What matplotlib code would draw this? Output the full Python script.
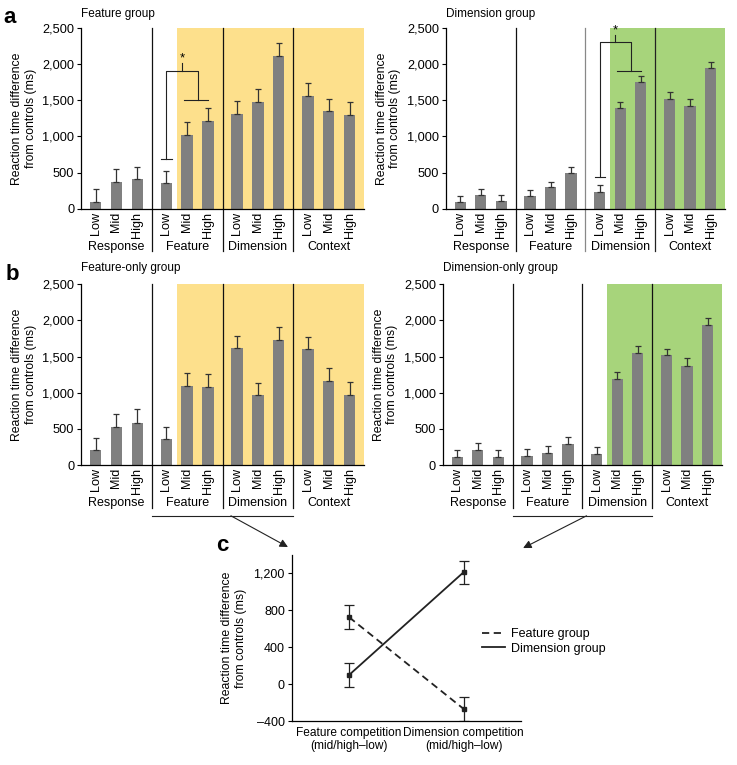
import numpy as np
import matplotlib
matplotlib.use('Agg')
import matplotlib.pyplot as plt
from matplotlib.lines import Line2D
from matplotlib.patches import ConnectionPatch
from matplotlib.ticker import FuncFormatter
from matplotlib.transforms import blended_transform_factory

plt.rcParams['font.family'] = ['Liberation Sans', 'DejaVu Sans']
plt.rcParams['font.size'] = 8.8

levels = ['Low', 'Mid', 'High']
conditions = ['Response', 'Feature', 'Dimension', 'Context']

# a: feature group / dimension group (ms, mean and +SEM)
feature_mean = [93, 370, 412, 356, 1025, 1215, 1307, 1474, 2116, 1557, 1349, 1298]
feature_err = [175, 176, 171, 167, 175, 172, 181, 175, 176, 176, 171, 171]
dimension_mean = [88, 194, 111, 171, 301, 495, 231, 1386, 1746, 1511, 1427, 1940]
dimension_err = [83, 84, 83, 93, 74, 84, 92, 88, 88, 97, 93, 84]

# b: feature-only group / dimension-only group
feature_only_mean = [207, 520, 585, 355, 1091, 1082, 1611, 962, 1727, 1598, 1160, 971]
feature_only_err = [171, 180, 184, 174, 175, 175, 175, 175, 174, 175, 184, 175]
dimension_only_mean = [108, 207, 117, 126, 171, 287, 159, 1195, 1551, 1516, 1375, 1940]
dimension_only_err = [99, 99, 92, 97, 95, 97, 95, 93, 93, 93, 107, 93]

# significance brackets: low end, top, pair, tick top
feature_bracket = [690, 1900, 1505, 2015]
dimension_bracket = [440, 2300, 1905, 2400]

# c: competition effects
competition = ['Feature competition\n(mid/high\u2013low)',
               'Dimension competition\n(mid/high\u2013low)']
feature_group_c = [725, -270]
feature_group_c_err = [130, 130]
dimension_group_c = [100, 1215]
dimension_group_c_err = [128, 125]

GROUP_W = 3.4
BAR_GRAY = '#808080'
YELLOW = '#fde08c'
GREEN = '#a7d47b'
YLABEL = 'Reaction time difference\nfrom controls (ms)'


def bar_positions():
    return np.array([g * GROUP_W + 0.7 + i for g in range(4) for i in range(3)])


def comma(v, pos):
    return f'{int(v):,}'.replace('-', '\u2013')


def draw_bars(ax, mean, err, shade_group, shade_color, sep_colors):
    x = bar_positions()
    ax.axvspan(shade_group * GROUP_W + 1.2, 4 * GROUP_W, color=shade_color, lw=0, zorder=0)
    ax.bar(x, mean, width=0.55, color=BAR_GRAY, zorder=2)
    ax.errorbar(x, mean, yerr=[np.zeros(len(err)), err], fmt='none', ecolor='#333333',
                elinewidth=0.9, capsize=2.5, capthick=0.9, zorder=3)
    ax.set_xlim(0, 4 * GROUP_W)
    ax.set_ylim(0, 2500)
    ax.set_yticks(np.arange(0, 2501, 500))
    ax.yaxis.set_major_formatter(FuncFormatter(comma))
    ax.set_xticks(x, levels * 4, rotation=90)
    ax.tick_params(axis='x', length=0, pad=2, labelsize=9.1)
    ax.tick_params(axis='y', length=3, width=0.8, pad=2, labelsize=9.2)
    for s in ['top', 'right']:
        ax.spines[s].set_visible(False)
    for s in ['left', 'bottom']:
        ax.spines[s].set_linewidth(0.9)
    trans = blended_transform_factory(ax.transData, ax.transAxes)
    for g in range(1, 4):
        ax.plot([g * GROUP_W] * 2, [1, -0.235], transform=trans, color=sep_colors[g - 1],
                lw=0.9, clip_on=False)
    for g, name in enumerate(conditions):
        ax.text(g * GROUP_W + GROUP_W / 2, -0.21, name, transform=trans, ha='center',
                va='center', fontsize=9)
    ax.set_ylabel(YLABEL, labelpad=4)
    return trans


def draw_bracket(ax, group, ys):
    y_low, y_top, y_pair, y_tick = ys
    x = bar_positions()[group * 3:group * 3 + 3]
    xm = (x[1] + x[2]) / 2
    kw = dict(color='#222222', lw=0.8, zorder=4)
    ax.plot([x[0] - 0.25, x[0] + 0.25], [y_low] * 2, **kw)
    ax.plot([x[0], x[0], xm, xm], [y_low, y_top, y_top, y_pair], **kw)
    ax.plot([x[1] - 0.15, x[2]], [y_pair] * 2, **kw)
    sx = (x[0] + xm) / 2
    ax.plot([sx, sx], [y_top, y_tick], **kw)
    ax.text(sx, y_tick - 20, '*', ha='center', va='bottom', fontsize=9.5, clip_on=False)


fig = plt.figure(figsize=(7.37, 7.65), dpi=100)

ax_al = fig.add_axes([0.110, 0.727, 0.384, 0.2366])
ax_ar = fig.add_axes([0.605, 0.727, 0.3786, 0.2366])
ax_bl = fig.add_axes([0.110, 0.392, 0.384, 0.2366])
ax_br = fig.add_axes([0.601, 0.392, 0.3786, 0.2366])
ax_c = fig.add_axes([0.396, 0.0575, 0.311, 0.217])

draw_bars(ax_al, feature_mean, feature_err, 1, YELLOW, ['#111111', '#111111', '#111111'])
draw_bars(ax_ar, dimension_mean, dimension_err, 2, GREEN, ['#111111', '#888888', '#222222'])
trans_bl = draw_bars(ax_bl, feature_only_mean, feature_only_err, 1, YELLOW,
                     ['#111111', '#111111', '#111111'])
trans_br = draw_bars(ax_br, dimension_only_mean, dimension_only_err, 2, GREEN,
                     ['#111111', '#111111', '#111111'])

ax_al.text(0, 1.075, 'Feature group', transform=ax_al.transAxes, fontsize=8.5, va='center')
ax_ar.text(0, 1.075, 'Dimension group', transform=ax_ar.transAxes, fontsize=8.5, va='center')
ax_bl.text(0, 1.09, 'Feature-only group', transform=ax_bl.transAxes, fontsize=8.5, va='center')
ax_br.text(0, 1.09, 'Dimension-only group', transform=ax_br.transAxes, fontsize=8.5,
           va='center')

draw_bracket(ax_al, 1, feature_bracket)
draw_bracket(ax_ar, 2, dimension_bracket)

# lines under b pointing at c
for ax, trans in [(ax_bl, trans_bl), (ax_br, trans_br)]:
    ax.plot([GROUP_W, 3 * GROUP_W], [-0.28, -0.28], transform=trans, color='#222222',
            lw=0.8, clip_on=False)
arrow_kw = dict(arrowstyle='-|>', mutation_scale=12, lw=0.8, color='#222222')
fig.add_artist(ConnectionPatch(xyA=(7.2, -0.28), coordsA=trans_bl, xyB=(-0.017, 1.048),
                               coordsB=ax_c.transAxes, **arrow_kw))
fig.add_artist(ConnectionPatch(xyA=(7.0, -0.28), coordsA=trans_br, xyB=(1.009, 1.042),
                               coordsB=ax_c.transAxes, **arrow_kw))

# c
xc = np.arange(len(competition))
ax_c.errorbar(xc, feature_group_c, yerr=feature_group_c_err, color='#222222', lw=1.3,
              ls=(0, (4, 2.5)), marker='s', ms=3, capsize=3.5, elinewidth=0.9, capthick=0.9)
ax_c.errorbar(xc, dimension_group_c, yerr=dimension_group_c_err, color='#222222', lw=1.3,
              ls='-', marker='s', ms=3, capsize=3.5, elinewidth=0.9, capthick=0.9)
ax_c.set_xlim(-0.5, 1.5)
ax_c.set_ylim(-400, 1400)
ax_c.set_yticks([-400, 0, 400, 800, 1200])
ax_c.yaxis.set_major_formatter(FuncFormatter(comma))
ax_c.set_xticks(xc, competition)
ax_c.tick_params(axis='x', length=0, pad=4, labelsize=8.6)
ax_c.tick_params(axis='y', length=3, width=0.8, pad=2, labelsize=9)
for s in ['top', 'right']:
    ax_c.spines[s].set_visible(False)
for s in ['left', 'bottom']:
    ax_c.spines[s].set_linewidth(0.9)
ax_c.set_ylabel(YLABEL, labelpad=5)
handles = [Line2D([], [], color='#222222', lw=1.3, ls=(0, (4, 2.5))),
           Line2D([], [], color='#222222', lw=1.3)]
ax_c.legend(handles, ['Feature group', 'Dimension group'], loc='center left',
            bbox_to_anchor=(0.83, 0.48), frameon=False, handlelength=1.8,
            handletextpad=0.5, labelspacing=0.2, borderpad=0, borderaxespad=0, fontsize=9)

fig.text(0.004, 1 - 23 / 765, 'a', fontsize=16, fontweight='bold', va='baseline')
fig.text(0.008, 1 - 280 / 765, 'b', fontsize=16, fontweight='bold', va='baseline')
fig.text(0.293, 1 - 551 / 765, 'c', fontsize=16, fontweight='bold', va='baseline')

fig.savefig('out.png', dpi=100)
